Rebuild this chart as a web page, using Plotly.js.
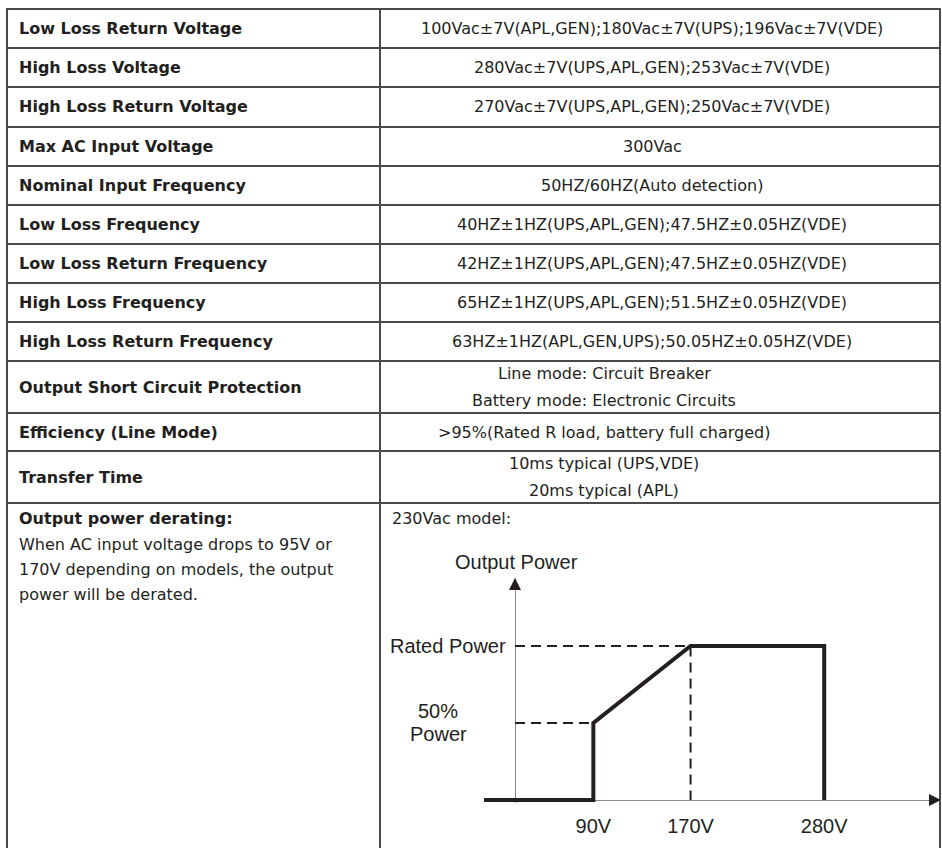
<!DOCTYPE html>
<html><head><meta charset="utf-8">
<script src="https://cdn.plot.ly/plotly-3.0.1.min.js"></script>
<style>html,body{margin:0;padding:0;background:#fff;}#chart{width:942px;height:848px;}</style>
</head><body><div id="chart"></div>
<script>
// ---------------- data ----------------
const specNames = [
  'Low Loss Return Voltage', 'High Loss Voltage', 'High Loss Return Voltage',
  'Max AC Input Voltage', 'Nominal Input Frequency', 'Low Loss Frequency',
  'Low Loss Return Frequency', 'High Loss Frequency', 'High Loss Return Frequency',
  'Output Short Circuit Protection', 'Efficiency (Line Mode)', 'Transfer Time'
];
const specValues = [
  ['100Vac±7V(APL,GEN);180Vac±7V(UPS);196Vac±7V(VDE)'],
  ['280Vac±7V(UPS,APL,GEN);253Vac±7V(VDE)'],
  ['270Vac±7V(UPS,APL,GEN);250Vac±7V(VDE)'],
  ['300Vac'],
  ['50HZ/60HZ(Auto detection)'],
  ['40HZ±1HZ(UPS,APL,GEN);47.5HZ±0.05HZ(VDE)'],
  ['42HZ±1HZ(UPS,APL,GEN);47.5HZ±0.05HZ(VDE)'],
  ['65HZ±1HZ(UPS,APL,GEN);51.5HZ±0.05HZ(VDE)'],
  ['63HZ±1HZ(APL,GEN,UPS);50.05HZ±0.05HZ(VDE)'],
  ['Line mode: Circuit Breaker', 'Battery mode: Electronic Circuits'],
  ['>95%(Rated R load, battery full charged)'],
  ['10ms typical (UPS,VDE)', '20ms typical (APL)']
];
const deratingTitle = 'Output power derating:';
const deratingText = ['When AC input voltage drops to 95V or', '170V depending on models, the output', 'power will be derated.'];
const modelLabel = '230Vac model:';
const curveVolts = [0, 90, 90, 170, 280, 280];   // input voltage (V)
const curvePower = [0, 0, 50, 100, 100, 0];      // output power (% of rated)
const voltTicks = [90, 170, 280];
const voltTickLabels = ['90V', '170V', '280V'];
const ratedPct = 100, halfPct = 50;
const axisTitle = 'Output Power';
const ratedLabel = 'Rated Power';
const halfLabel = ['50%', 'Power'];

// ---------------- layout constants (pixels) ----------------
const W = 942, H = 848;
const rowEdges = [9, 48, 87, 127, 166, 205, 244, 283, 322, 361, 413, 451, 503];
const tableBottom = 852;
const colX = [7, 380, 940];
const valueCenterX = [652, 652, 652, 652, 652, 652, 652, 652, 652, 604, 604, 604];
const lineGap = 27;
const labelLeft = 17;
const ink = '#231f20', gridCol = '#4a4a4a', axisCol = '#8a8a8a';
const tableFont = 'DejaVu Sans, Verdana, sans-serif';
const chartFont = 'Liberation Sans, Arial, sans-serif';

// chart geometry
const xStartPx = 484, xEndPx = 941, originPx = 800, topPx = 578, yAxisPx = 515, yBottomPx = 802.5;
const pxPerVolt = 1.215, pxPerPct = 1.54;
const xRange = [0, (xEndPx - xStartPx) / pxPerVolt];
const yRange = [-(yBottomPx - originPx) / pxPerPct, (originPx - topPx) / pxPerPct];
const yAxisV = xRange[0] + (yAxisPx - xStartPx) / pxPerVolt;

const px = x => x / W;
const py = y => 1 - y / H;

// ---------------- table ----------------
const shapes = [];
rowEdges.forEach(y => shapes.push({type: 'line', xref: 'paper', yref: 'paper',
  x0: px(colX[0] - 1), x1: px(colX[2] + 1), y0: py(y), y1: py(y),
  line: {color: gridCol, width: 2}, layer: 'below'}));
colX.forEach(x => shapes.push({type: 'line', xref: 'paper', yref: 'paper',
  x0: px(x), x1: px(x), y0: py(rowEdges[0]), y1: py(tableBottom),
  line: {color: gridCol, width: 2}, layer: 'below'}));

const ann = [];
const tf = (size, color) => ({family: tableFont, size: size, color: color || ink});
specNames.forEach((name, i) => {
  const cy = (rowEdges[i] + rowEdges[i + 1]) / 2;
  ann.push({xref: 'paper', yref: 'paper', x: px(labelLeft), y: py(cy), xanchor: 'left', yanchor: 'middle',
    text: '<b>' + name + '</b>', showarrow: false, font: tf(16)});
  const lines = specValues[i];
  lines.forEach((t, j) => {
    const ly = cy + (j - (lines.length - 1) / 2) * lineGap;
    ann.push({xref: 'paper', yref: 'paper', x: px(valueCenterX[i]), y: py(ly), xanchor: 'center', yanchor: 'middle',
      text: t, showarrow: false, font: tf(16)});
  });
});
const lastTop = rowEdges[rowEdges.length - 1];
ann.push({xref: 'paper', yref: 'paper', x: px(labelLeft), y: py(lastTop + 15), xanchor: 'left', yanchor: 'middle',
  text: '<b>' + deratingTitle + '</b>', showarrow: false, font: tf(16)});
deratingText.forEach((t, j) => ann.push({xref: 'paper', yref: 'paper', x: px(labelLeft), y: py(lastTop + 41 + j * 25.3),
  xanchor: 'left', yanchor: 'middle', text: t, showarrow: false, font: tf(16)}));
ann.push({xref: 'paper', yref: 'paper', x: px(colX[1] + 10), y: py(lastTop + 15), xanchor: 'left', yanchor: 'middle',
  text: modelLabel, showarrow: false, font: tf(16)});

// ---------------- chart labels ----------------
const cf = {family: chartFont, size: 20, color: ink};
ann.push({xref: 'x', yref: 'y', x: yAxisV, y: yRange[1], yshift: 16, xshift: 1, xanchor: 'center', yanchor: 'middle',
  text: axisTitle, showarrow: false, font: cf});
ann.push({xref: 'x', yref: 'y', x: yAxisV, y: ratedPct, xshift: -7, xanchor: 'right', yanchor: 'middle',
  text: ratedLabel, showarrow: false, font: cf});
ann.push({xref: 'x', yref: 'y', x: yAxisV, y: halfPct, xshift: -77, yshift: 12, xanchor: 'center', yanchor: 'middle',
  text: halfLabel[0], showarrow: false, font: cf});
ann.push({xref: 'x', yref: 'y', x: yAxisV, y: halfPct, xshift: -77, yshift: -11, xanchor: 'center', yanchor: 'middle',
  text: halfLabel[1], showarrow: false, font: cf});

// ---------------- traces ----------------
const ratedV = curveVolts[3], halfV = curveVolts[2];
const traces = [
  {type: 'scatter', mode: 'lines', x: [yAxisV, ratedV, ratedV], y: [ratedPct, ratedPct, 0],
    line: {color: ink, width: 2, dash: '10px,6px'}, hoverinfo: 'skip'},
  {type: 'scatter', mode: 'lines', x: [yAxisV, halfV], y: [halfPct, halfPct],
    line: {color: ink, width: 2, dash: '10px,6px'}, hoverinfo: 'skip'},
  {type: 'scatter', mode: 'lines', x: curveVolts, y: curvePower,
    line: {color: ink, width: 4}, hoverinfo: 'skip'},
  {type: 'scatter', mode: 'markers', x: [yAxisV, xRange[1]], y: [yRange[1], 0], cliponaxis: false,
    marker: {symbol: ['arrow-up', 'arrow-right'], size: 12, color: ink, line: {width: 0}}, hoverinfo: 'skip'}
];

const layout = {
  width: W, height: H, margin: {l: 0, r: 0, t: 0, b: 0, pad: 0},
  paper_bgcolor: '#ffffff', plot_bgcolor: 'rgba(0,0,0,0)', showlegend: false,
  xaxis: {domain: [px(xStartPx), px(xEndPx)], range: xRange, anchor: 'free', position: py(originPx),
    showline: true, linecolor: axisCol, linewidth: 1.3, showgrid: false, zeroline: false, ticks: '',
    tickmode: 'array', tickvals: voltTicks, ticktext: voltTickLabels, tickfont: cf,
    ticklabelstandoff: 8, layer: 'below traces', fixedrange: true},
  yaxis: {domain: [py(yBottomPx), py(topPx)], range: yRange, anchor: 'free', position: px(yAxisPx),
    showline: true, linecolor: axisCol, linewidth: 1.3, showgrid: false, zeroline: false, ticks: '',
    showticklabels: false, layer: 'below traces', fixedrange: true},
  shapes: shapes, annotations: ann
};
Plotly.newPlot('chart', traces, layout, {staticPlot: true, displayModeBar: false});
</script></body></html>
